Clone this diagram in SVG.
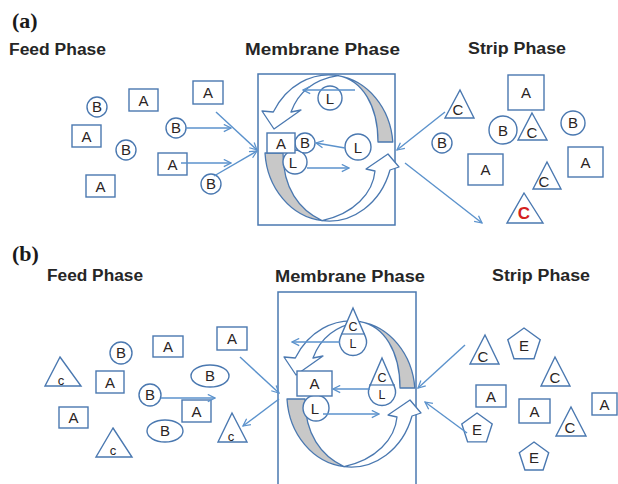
<svg xmlns="http://www.w3.org/2000/svg" xmlns:xlink="http://www.w3.org/1999/xlink" width="618" height="484" viewBox="0 0 618 484">
  <style>
    .shp { fill: #ffffff; stroke: #4a78b0; stroke-width: 1.4; }
    .box { fill: none; stroke: #4a78b0; stroke-width: 1.5; }
    .gray { fill: #c8c8c8; stroke: #4a78b0; stroke-width: 1.3; stroke-linejoin: round; }
    .rib { fill: #ffffff; stroke: #4a78b0; stroke-width: 1.3; stroke-linejoin: round; }
    .con { fill: none; stroke: #5b92cc; stroke-width: 1.4; marker-end: url(#ah); }
    .lbl { font-family: "Liberation Sans", Arial, sans-serif; font-size: 15px; fill: #2a2424; text-anchor: middle; }
    .sm { font-size: 13px; }
    .dl { font-size: 12.5px; }
    .red { fill: #d42020; font-weight: bold; font-size: 17px; }
    .ttl { font-family: "Liberation Sans", Arial, sans-serif; font-weight: bold; font-size: 16px; fill: #262626; }
    .tag { font-family: "Liberation Serif", "Times New Roman", serif; font-weight: bold; font-size: 22px; fill: #1a1a1a; }
    .sep { fill: none; stroke: #4a78b0; stroke-width: 1.2; }
  </style>
  <defs>
    <marker id="ah" viewBox="0 0 10 10" refX="9" refY="5" markerWidth="9" markerHeight="9" markerUnits="userSpaceOnUse" orient="auto">
      <path d="M1,1 L9,5 L1,9" fill="none" stroke="#5b92cc" stroke-width="1.4"/>
    </marker>
    <!-- pair of curved ribbon arrows circling inside the membrane, centred on 0,0 -->
    <g id="loop">
      <path class="gray" d="M63.8,-6 A64 73 0 0 0 9,-72.4 C33,-68 49,-43 49,-6 Z"/>
      <path class="rib" d="M9,-72.4 A64 73 0 0 0 -55.7,-36 L-67,-37 L-55,-19 L-28,-38 L-38,-36 C-30,-58 -12,-69 9,-72.4 Z"/>
      <path class="gray" d="M-64,5 A64 73 0 0 0 -7,72.6 C-30,62 -46,40 -46,5 Z"/>
      <path class="rib" d="M-7,72.6 A64 73 0 0 0 61,22 L70,19 L59,6 L37,21 L46,23 C44,45 25,66 -7,72.6 Z"/>
    </g>
    <!-- drop shape: circle with pointed top -->
    <path id="drop" d="M0,-34 L12.4,-5.4 A13.5 13.5 0 1 1 -12.4,-5.4 Z"/>
  </defs>

  <rect width="618" height="484" fill="#ffffff"/>

  <!-- ===== panel (a) ===== -->
  <text class="tag" x="12" y="28">(a)</text>
  <text class="ttl" x="9" y="55" textLength="97" lengthAdjust="spacingAndGlyphs">Feed Phase</text>
  <text class="ttl" x="245" y="55" textLength="155" lengthAdjust="spacingAndGlyphs">Membrane Phase</text>
  <text class="ttl" x="468" y="54" textLength="98" lengthAdjust="spacingAndGlyphs">Strip Phase</text>

  <g id="a-membrane">
    <rect class="box" x="258" y="74" width="137" height="151"/>
    <use xlink:href="#loop" href="#loop" transform="translate(329,148)"/>
  </g>

  <!-- feed phase (a) -->
  <g id="a-f1"><circle class="shp" cx="97" cy="107" r="10"/><text class="lbl" x="97" y="112">B</text></g>
  <g id="a-f2"><rect class="shp" x="129" y="89" width="29" height="22"/><text class="lbl" x="143.5" y="106">A</text></g>
  <g id="a-f3"><rect class="shp" x="193" y="81" width="30" height="23"/><text class="lbl" x="208" y="98">A</text></g>
  <g id="a-f4"><rect class="shp" x="72" y="125" width="29" height="22"/><text class="lbl" x="86.5" y="142">A</text></g>
  <g id="a-f5"><circle class="shp" cx="126" cy="150" r="10"/><text class="lbl" x="126" y="155">B</text></g>
  <g id="a-f6"><circle class="shp" cx="176" cy="128" r="10"/><text class="lbl" x="176" y="133">B</text></g>
  <g id="a-f7"><rect class="shp" x="158" y="153" width="29" height="22"/><text class="lbl" x="172.5" y="170">A</text></g>
  <g id="a-f8"><rect class="shp" x="86" y="175" width="29" height="22"/><text class="lbl" x="100.5" y="192">A</text></g>
  <g id="a-f9"><circle class="shp" cx="211" cy="184" r="10"/><text class="lbl" x="211" y="189">B</text></g>

  <!-- membrane contents (a) -->
  <g id="a-m-l1"><circle class="shp" cx="295" cy="162" r="12"/><text class="lbl" x="293" y="168">L</text></g>
  <g id="a-m-b"><circle class="shp" cx="305" cy="143" r="10"/><text class="lbl" x="305" y="148">B</text></g>
  <g id="a-m-a"><rect class="shp" x="267" y="133" width="28" height="20"/><text class="lbl" x="281" y="149">A</text></g>
  <g id="a-m-l2"><circle class="shp" cx="330" cy="98" r="12"/><text class="lbl" x="330" y="104">L</text></g>
  <g id="a-m-l3"><circle class="shp" cx="358" cy="147" r="13"/><text class="lbl" x="358" y="153">L</text></g>

  <!-- strip phase (a) -->
  <g id="a-s1"><polygon class="shp" points="460,90 474,118 445,118"/><text class="lbl" x="458" y="115">C</text></g>
  <g id="a-s2"><circle class="shp" cx="442" cy="143" r="10"/><text class="lbl" x="442" y="148">B</text></g>
  <g id="a-s3"><rect class="shp" x="508" y="75" width="36" height="35"/><text class="lbl" x="526" y="98">A</text></g>
  <g id="a-s4"><circle class="shp" cx="503" cy="130" r="14"/><text class="lbl" x="503" y="136">B</text></g>
  <g id="a-s5"><polygon class="shp" points="532,113 547,140 518,140"/><text class="lbl" x="532" y="138">C</text></g>
  <g id="a-s6"><circle class="shp" cx="573" cy="123" r="12"/><text class="lbl" x="573" y="128">B</text></g>
  <g id="a-s7"><rect class="shp" x="468" y="154" width="35" height="31"/><text class="lbl" x="485.5" y="175">A</text></g>
  <g id="a-s8"><rect class="shp" x="568" y="147" width="35" height="30"/><text class="lbl" x="585.5" y="168">A</text></g>
  <g id="a-s9"><polygon class="shp" points="547,162 561,189 533,189"/><text class="lbl" x="544" y="187">C</text></g>
  <g id="a-s10"><polygon class="shp" points="524,193 543,223 507,223"/><text class="lbl red" x="524" y="219">C</text></g>

  <!-- ===== panel (b) ===== -->
  <text class="tag" x="12" y="261">(b)</text>
  <text class="ttl" x="47" y="281" textLength="96" lengthAdjust="spacingAndGlyphs">Feed Phase</text>
  <text class="ttl" x="275" y="282" textLength="150" lengthAdjust="spacingAndGlyphs">Membrane Phase</text>
  <text class="ttl" x="492" y="281" textLength="98" lengthAdjust="spacingAndGlyphs">Strip Phase</text>

  <g id="b-membrane">
    <rect class="box" x="278" y="292" width="138" height="210"/>
    <use xlink:href="#loop" href="#loop" transform="translate(351,394)"/>
  </g>

  <!-- feed phase (b) -->
  <g id="b-f1"><polygon class="shp" points="60,357 81,386 45,386"/><text class="lbl sm" x="61" y="385">c</text></g>
  <g id="b-f2"><circle class="shp" cx="121" cy="353" r="11"/><text class="lbl" x="121" y="358">B</text></g>
  <g id="b-f3"><rect class="shp" x="153" y="336" width="30" height="21"/><text class="lbl" x="168" y="352">A</text></g>
  <g id="b-f4"><rect class="shp" x="217" y="327" width="30" height="23"/><text class="lbl" x="232" y="344">A</text></g>
  <g id="b-f5"><rect class="shp" x="96" y="371" width="28" height="22"/><text class="lbl" x="110" y="388">A</text></g>
  <g id="b-f6"><ellipse class="shp" cx="210" cy="376" rx="19" ry="11"/><text class="lbl" x="210" y="381">B</text></g>
  <g id="b-f7"><circle class="shp" cx="150" cy="395" r="11"/><text class="lbl" x="150" y="400">B</text></g>
  <g id="b-f8"><rect class="shp" x="182" y="400" width="29" height="22"/><text class="lbl" x="196.5" y="417">A</text></g>
  <g id="b-f9"><rect class="shp" x="59" y="407" width="29" height="21"/><text class="lbl" x="73.5" y="423">A</text></g>
  <g id="b-f10"><ellipse class="shp" cx="165" cy="431" rx="18" ry="11"/><text class="lbl" x="165" y="436">B</text></g>
  <g id="b-f11"><polygon class="shp" points="113,428 132,457 96,457"/><text class="lbl sm" x="113" y="455">c</text></g>
  <g id="b-f12"><polygon class="shp" points="232,413 247,442 218,442"/><text class="lbl sm" x="231" y="441">c</text></g>

  <!-- membrane contents (b) -->
  <g id="b-m-l1"><circle class="shp" cx="316" cy="408" r="13"/><text class="lbl" x="315" y="414">L</text></g>
  <g id="b-m-a"><rect class="shp" x="297" y="371" width="35" height="25"/><text class="lbl" x="314.5" y="389">A</text></g>
  <g id="b-m-cl1">
    <use xlink:href="#drop" href="#drop" class="shp" transform="translate(353,342)"/>
    <line class="sep" x1="341" y1="334" x2="365" y2="334"/>
    <text class="lbl dl" x="353" y="331">C</text><text class="lbl dl" x="353" y="347.5">L</text>
  </g>
  <g id="b-m-cl2">
    <use xlink:href="#drop" href="#drop" class="shp" transform="translate(382,392)"/>
    <line class="sep" x1="369" y1="385" x2="395" y2="385"/>
    <text class="lbl dl" x="382" y="382">C</text><text class="lbl dl" x="382" y="398.5">L</text>
  </g>

  <!-- strip phase (b) -->
  <g id="b-s1"><polygon class="shp" points="485,335 499,364 470,364"/><text class="lbl" x="483" y="362">C</text></g>
  <g id="b-s2"><polygon class="shp" points="524,328 540.2,339.7 534,358.8 514,358.8 507.8,339.7"/><text class="lbl" x="524" y="351">E</text></g>
  <g id="b-s3"><polygon class="shp" points="555,357 570,386 541,386"/><text class="lbl" x="555" y="383">C</text></g>
  <g id="b-s4"><rect class="shp" x="476" y="385" width="30" height="22"/><text class="lbl" x="491" y="402">A</text></g>
  <g id="b-s5"><rect class="shp" x="519" y="399" width="31" height="24"/><text class="lbl" x="534.5" y="417">A</text></g>
  <g id="b-s6"><rect class="shp" x="592" y="393" width="25" height="22"/><text class="lbl" x="604.5" y="410">A</text></g>
  <g id="b-s7"><polygon class="shp" points="571,407 586,436 556,436"/><text class="lbl" x="570" y="433">C</text></g>
  <g id="b-s8"><polygon class="shp" points="477,413 492.2,424 486.4,441.9 467.6,441.9 461.8,424"/><text class="lbl" x="477" y="435">E</text></g>
  <g id="b-s9"><polygon class="shp" points="534,442 548.7,452.7 543.1,470 524.9,470 519.3,452.7"/><text class="lbl" x="534" y="463">E</text></g>

  <!-- connectors -->
  <g id="connectors">
    <line class="con" x1="186" y1="128" x2="231" y2="128"/>
    <line class="con" x1="181" y1="163" x2="231" y2="163"/>
    <line class="con" x1="216" y1="112" x2="257" y2="150"/>
    <line class="con" x1="214" y1="176" x2="257" y2="151"/>
    <line class="con" x1="445" y1="112" x2="397" y2="150"/>
    <line class="con" x1="405" y1="163" x2="482" y2="223"/>
    <line class="con" x1="355" y1="90" x2="303" y2="90"/>
    <line class="con" x1="345" y1="148" x2="316" y2="143"/>
    <line class="con" x1="307" y1="168" x2="349" y2="168"/>

    <line class="con" x1="161" y1="398" x2="215" y2="398"/>
    <line class="con" x1="240" y1="357" x2="279" y2="393"/>
    <line class="con" x1="279" y1="399" x2="243" y2="426"/>
    <line class="con" x1="465" y1="345" x2="418" y2="388"/>
    <line class="con" x1="467" y1="433" x2="425" y2="402"/>
    <line class="con" x1="340" y1="342" x2="292" y2="342"/>
    <line class="con" x1="370" y1="389" x2="333" y2="389"/>
    <line class="con" x1="323" y1="414" x2="379" y2="414"/>
  </g>
</svg>
